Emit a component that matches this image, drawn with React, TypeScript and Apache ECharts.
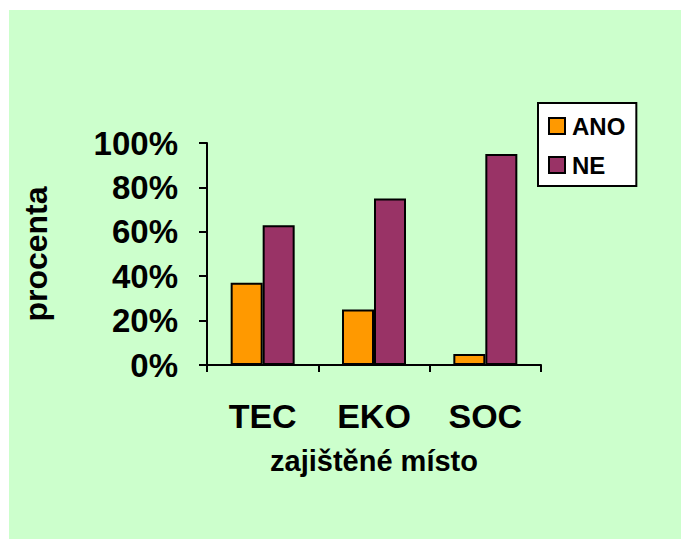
import React, { useEffect, useRef } from "react";
import * as echarts from "echarts";

const categories = ["TEC", "EKO", "SOC"];
const anoValues = [37, 25, 5];
const neValues = [63, 75, 95];
const seriesNames = ["ANO", "NE"];
const yTicks = { min: 0, max: 100, interval: 20 };
const xAxisTitle = "zajištěné místo";
const yAxisTitle = "procenta";

const FONT = '"Liberation Sans", Arial, sans-serif';

export default function App() {
  const ref = useRef<HTMLDivElement>(null);
  useEffect(() => {
    if (!ref.current) return;
    const chart = echarts.init(ref.current, null, { renderer: "svg" });
    chart.setOption({
      animation: false,
      backgroundColor: "#ffffff",
      textStyle: { fontFamily: FONT, fontWeight: "bold", color: "#000" },
      graphic: [
        {
          type: "rect",
          z: -100,
          silent: true,
          shape: { x: 9, y: 10, width: 672, height: 529 },
          style: { fill: "#CCFFCC" },
        },
      ],
      grid: { left: 207, right: 140, top: 143, bottom: 174, containLabel: false },
      legend: {
        orient: "vertical",
        left: 538,
        top: 103,
        data: seriesNames,
        backgroundColor: "#ffffff",
        borderColor: "#000",
        borderWidth: 2,
        borderRadius: 0,
        padding: [11, 11, 9, 10],
        itemGap: 15,
        itemWidth: 16,
        itemHeight: 16,
        icon: "rect",
        textStyle: { fontFamily: FONT, fontWeight: "bold", fontSize: 24, color: "#000", padding: [0, 0, 0, 2] },
      },
      xAxis: {
        type: "category",
        data: categories,
        name: xAxisTitle,
        nameLocation: "middle",
        nameGap: 81,
        nameTextStyle: { fontFamily: FONT, fontWeight: "bold", fontSize: 29, color: "#000" },
        axisLine: { lineStyle: { color: "#000", width: 2 } },
        axisTick: { show: true, length: 7, lineStyle: { color: "#000", width: 2 } },
        axisLabel: { margin: 34, fontFamily: FONT, fontWeight: "bold", fontSize: 34, color: "#000" },
        splitLine: { show: false },
      },
      yAxis: {
        type: "value",
        min: yTicks.min,
        max: yTicks.max,
        interval: yTicks.interval,
        name: yAxisTitle,
        nameLocation: "middle",
        nameRotate: 90,
        nameGap: 155,
        nameTextStyle: { fontFamily: FONT, fontWeight: "bold", fontSize: 32, color: "#000" },
        axisLine: { show: true, lineStyle: { color: "#000", width: 2 } },
        axisTick: { show: true, length: 8, lineStyle: { color: "#000", width: 2 } },
        axisLabel: { margin: 29, formatter: "{value}%", fontFamily: FONT, fontWeight: "bold", fontSize: 33, color: "#000" },
        splitLine: { show: false },
      },
      series: [
        {
          name: seriesNames[0],
          type: "bar",
          data: anoValues,
          barWidth: 32,
          barGap: "0%",
          itemStyle: { color: "#FF9900", borderColor: "#000", borderWidth: 2 },
        },
        {
          name: seriesNames[1],
          type: "bar",
          data: neValues,
          barWidth: 32,
          barGap: "0%",
          itemStyle: { color: "#993366", borderColor: "#000", borderWidth: 2 },
        },
      ],
    });
    return () => chart.dispose();
  }, []);
  return (
    <div
      ref={ref}
      style={{ position: "fixed", left: 0, top: 0, width: 681, height: 539 }}
    />
  );
}
